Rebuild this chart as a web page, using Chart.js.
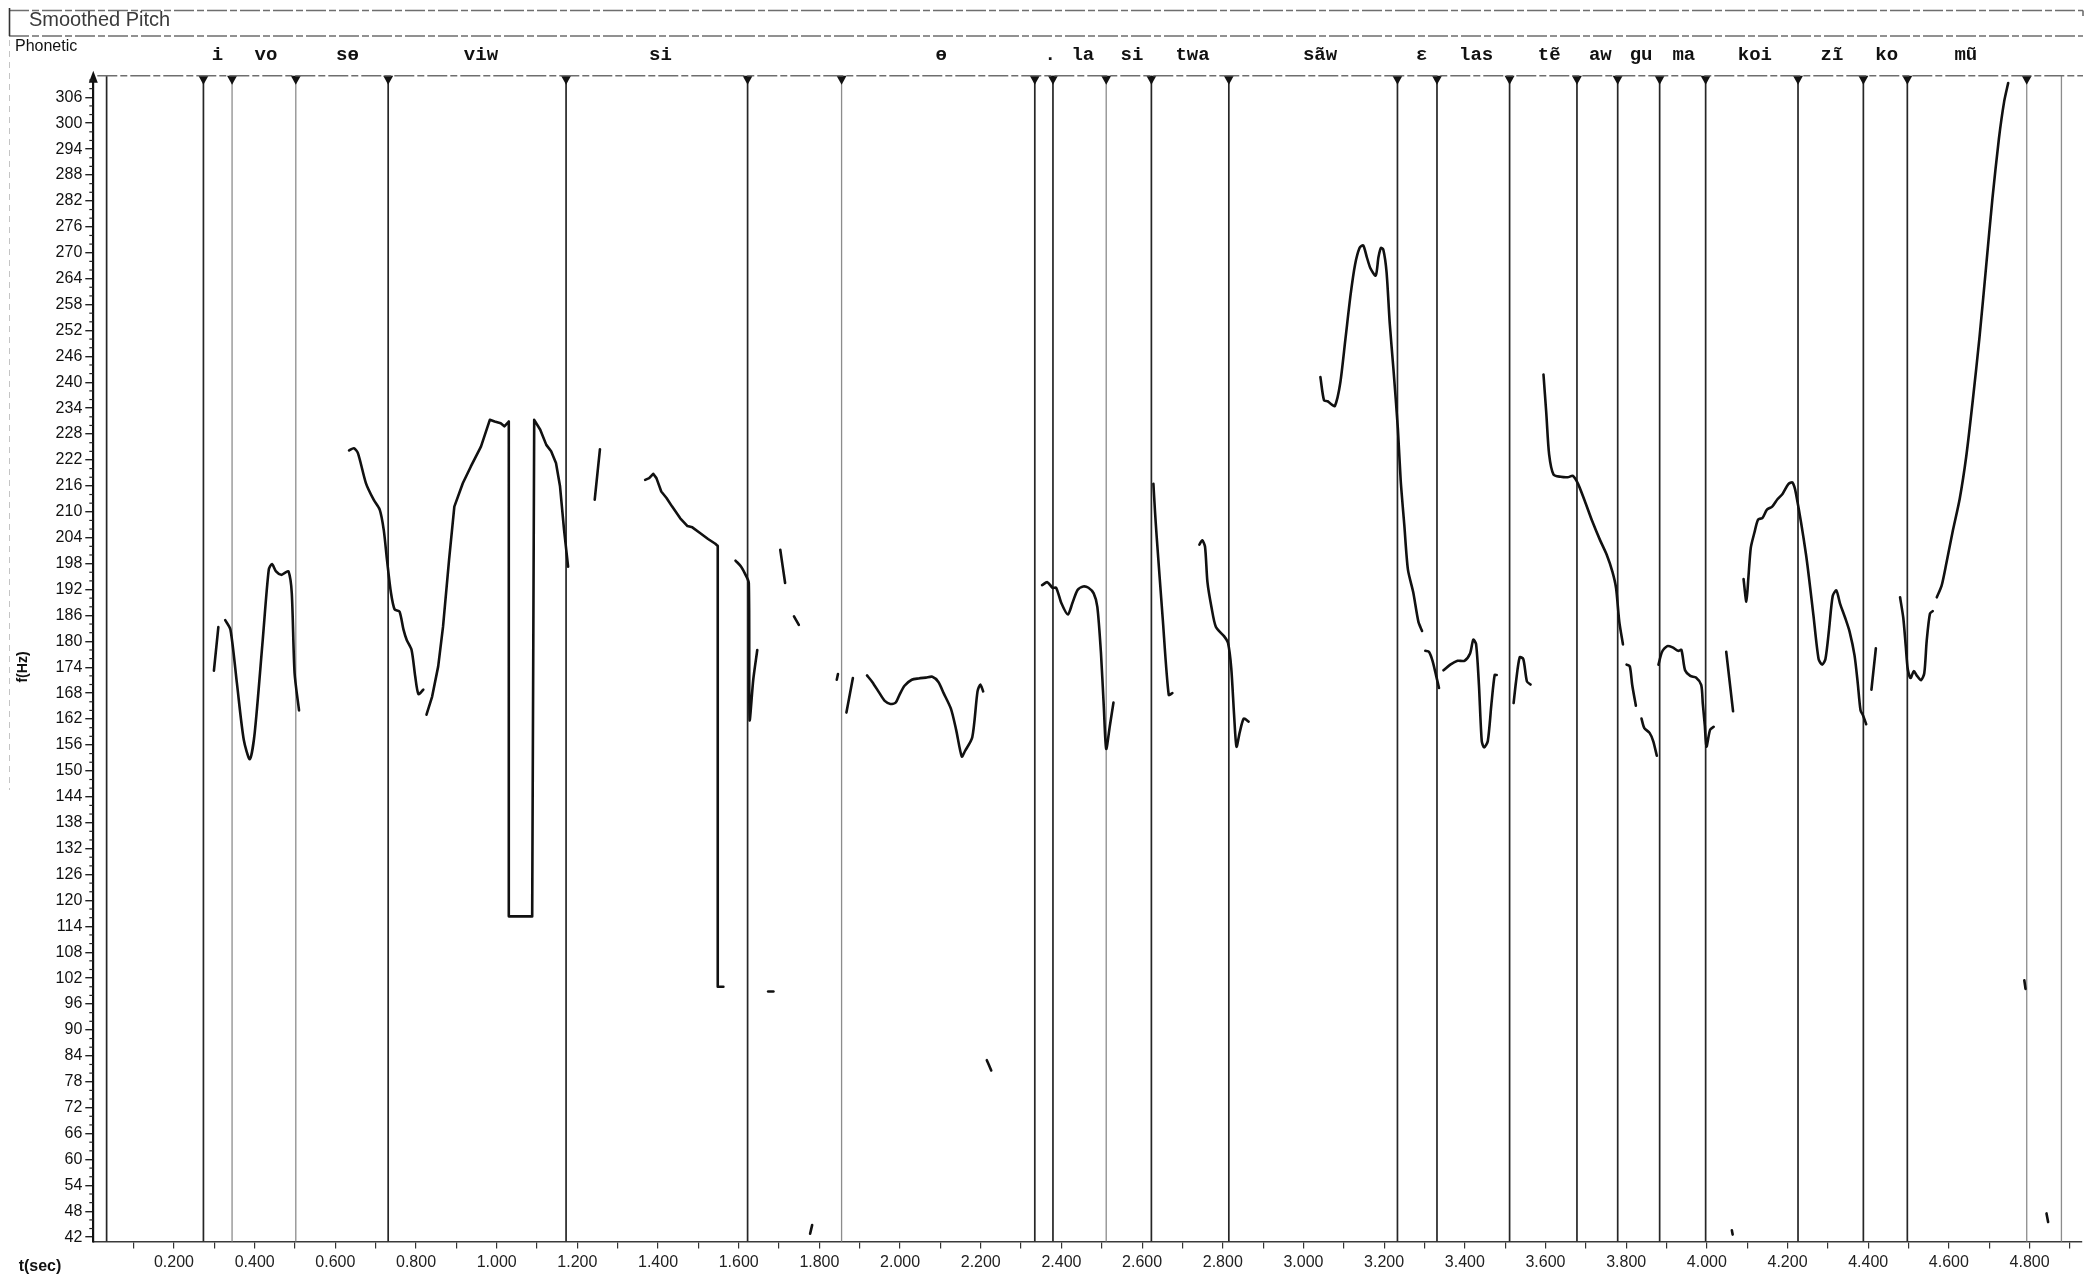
<!DOCTYPE html>
<html>
<head>
<meta charset="utf-8">
<title>Smoothed Pitch</title>
<script src="https://cdn.jsdelivr.net/npm/chart.js@4.4.1/dist/chart.umd.min.js"></script>
<style>
  html, body { margin: 0; padding: 0; background: #fff; }
  canvas { display: block; }
</style>
</head>
<body>
<canvas id="pitchChart" width="2091" height="1280"></canvas>
<script>
// pitch contour pieces, [time (s), f (Hz)]
const pitchI = [[0.299, 173.2], [0.310, 183.3]];
const pitchVo = [[0.327, 184.9], [0.340, 182.7], [0.356, 170.3], [0.373, 157.2], [0.388, 152.7], [0.400, 158.7], [0.420, 180.3], [0.435, 196.6], [0.443, 197.9], [0.453, 196.2], [0.466, 195.4], [0.474, 195.8], [0.484, 196.2], [0.492, 191.2], [0.499, 172.6], [0.510, 164.0]];
const pitchSe = [[0.634, 224.2], [0.646, 224.7], [0.656, 223.6], [0.676, 216.6], [0.695, 212.8], [0.710, 210.5], [0.720, 205.8], [0.728, 198.9], [0.738, 191.2], [0.747, 187.4], [0.759, 186.9], [0.769, 182.7], [0.777, 180.3], [0.789, 178.0], [0.798, 171.9], [0.806, 167.8], [0.818, 168.8]];
const pitchViw = [[0.826, 163.0], [0.840, 167.2], [0.855, 174.2], [0.867, 183.4], [0.882, 198.9], [0.895, 211.2], [0.916, 216.6], [0.936, 220.5], [0.961, 225.1], [0.983, 231.3], [0.995, 230.9], [1.010, 230.5], [1.019, 229.8], [1.030, 230.9], [1.030, 116.3], [1.088, 116.3], [1.093, 231.3], [1.108, 229.0], [1.123, 225.5], [1.135, 224.0], [1.147, 221.3], [1.157, 215.9], [1.167, 205.8], [1.177, 197.3]];
const pitchBlipA = [[1.243, 212.8], [1.256, 224.5]];
const pitchSi = [[1.368, 217.4], [1.378, 217.8], [1.388, 218.8], [1.396, 217.8], [1.408, 214.7], [1.421, 213.2], [1.435, 211.2], [1.455, 208.5], [1.473, 206.7], [1.485, 206.4], [1.504, 205.1], [1.524, 203.7], [1.542, 202.6], [1.548, 202.1], [1.548, 100.0], [1.562, 100.0]];
const pitchSi2 = [[1.592, 198.7], [1.606, 197.3], [1.617, 195.4], [1.625, 193.5], [1.627, 161.8], [1.636, 171.1], [1.646, 178.0]];
const pitchDashA = [[1.673, 98.9], [1.686, 98.9]];
const pitchTickA = [[1.703, 201.2], [1.715, 193.5]];
const pitchTickB = [[1.737, 185.8], [1.749, 183.8]];
const pitchTickC = [[1.777, 42.8], [1.782, 44.8]];
const pitchTickD = [[1.843, 171.1], [1.846, 172.4]];
const pitchE1 = [[1.867, 163.5], [1.883, 171.5]];
const pitchE2 = [[1.918, 172.1], [1.931, 170.6], [1.949, 168.0], [1.962, 166.2], [1.976, 165.5], [1.989, 165.8], [1.998, 167.5], [2.011, 169.7], [2.029, 171.1], [2.046, 171.4], [2.064, 171.6], [2.080, 171.8], [2.095, 170.6], [2.108, 168.0], [2.126, 164.4], [2.139, 159.5], [2.153, 153.3], [2.161, 154.6], [2.179, 157.8], [2.192, 168.4], [2.199, 170.0], [2.206, 168.4]];
const pitchTickE = [[2.215, 83.0], [2.226, 80.6]];
const pitchLa = [[2.352, 193.0], [2.365, 193.7], [2.378, 192.4], [2.387, 192.4], [2.400, 188.8], [2.416, 186.2], [2.427, 188.8], [2.440, 191.9], [2.454, 192.7], [2.467, 192.4], [2.480, 191.1], [2.489, 188.0], [2.498, 177.3], [2.505, 164.9], [2.511, 155.1], [2.520, 160.4], [2.529, 165.8]];
const pitchSi3 = [[2.628, 216.5], [2.632, 210.0], [2.636, 204.4], [2.651, 185.4], [2.666, 167.6], [2.675, 168.0]];
const pitchTwa = [[2.742, 202.4], [2.749, 203.4], [2.756, 201.9], [2.762, 193.7], [2.772, 187.9], [2.783, 183.3], [2.803, 181.2], [2.813, 179.6], [2.821, 173.8], [2.828, 163.0], [2.834, 155.6], [2.842, 158.9], [2.852, 162.1], [2.864, 161.4]];
const pitchSaw = [[3.042, 241.2], [3.051, 235.8], [3.060, 235.6], [3.069, 234.9], [3.078, 234.5], [3.091, 239.7], [3.104, 250.0], [3.117, 260.4], [3.128, 267.3], [3.139, 271.1], [3.148, 271.7], [3.157, 269.0], [3.166, 266.4], [3.179, 264.7], [3.186, 269.0], [3.192, 271.1], [3.198, 270.7], [3.206, 265.5], [3.214, 253.5], [3.223, 243.1], [3.234, 229.3], [3.241, 217.3], [3.250, 206.9], [3.259, 196.6], [3.272, 191.4], [3.285, 184.5], [3.294, 182.4]];
const pitchEps = [[3.302, 177.8], [3.311, 177.6], [3.320, 175.5], [3.329, 172.0], [3.336, 169.2]];
const pitchLas = [[3.347, 173.3], [3.364, 174.6], [3.382, 175.5], [3.399, 175.5], [3.413, 177.2], [3.421, 180.4], [3.428, 179.3], [3.435, 169.9], [3.442, 156.9], [3.448, 155.4], [3.457, 156.9], [3.466, 165.5], [3.474, 172.2], [3.479, 172.2]];
const pitchBlipB = [[3.521, 165.7], [3.527, 170.7], [3.536, 176.3], [3.545, 175.9], [3.554, 170.7], [3.563, 170.0]];
const pitchTe = [[3.595, 241.8], [3.602, 232.8], [3.609, 223.3], [3.620, 218.6], [3.638, 218.1], [3.655, 218.0], [3.668, 218.3], [3.681, 216.4], [3.699, 212.1], [3.716, 207.8], [3.735, 203.5], [3.752, 200.0], [3.766, 196.1], [3.775, 192.3], [3.783, 184.5], [3.792, 179.3]];
const pitchAw1 = [[3.801, 174.6], [3.809, 174.2], [3.815, 169.9], [3.824, 165.1]];
const pitchAw2 = [[3.838, 162.1], [3.845, 159.9], [3.858, 158.8], [3.867, 156.9], [3.876, 153.5]];
const pitchGu = [[3.880, 174.6], [3.889, 177.6], [3.902, 178.9], [3.915, 178.6], [3.929, 177.8], [3.937, 178.0], [3.946, 173.3], [3.959, 172.0], [3.973, 171.6], [3.986, 169.9], [3.990, 165.5], [3.995, 160.4], [3.999, 155.6], [4.008, 159.5], [4.017, 160.2]];
const pitchBlipC = [[4.048, 177.6], [4.065, 163.8]];
const pitchTickF = [[4.062, 43.6], [4.064, 42.6]];
const pitchKoi = [[4.091, 194.4], [4.098, 189.2], [4.103, 194.8], [4.109, 201.7], [4.118, 205.2], [4.127, 208.2], [4.138, 208.6], [4.149, 210.5], [4.162, 211.2], [4.175, 212.9], [4.188, 214.2], [4.202, 216.4], [4.212, 216.8], [4.221, 214.2], [4.246, 200.0], [4.264, 186.2], [4.277, 175.9], [4.286, 174.6], [4.294, 175.9], [4.303, 182.8], [4.312, 190.5], [4.321, 191.8], [4.330, 188.8], [4.343, 185.4], [4.354, 182.2], [4.366, 176.8], [4.374, 170.4], [4.381, 164.0], [4.387, 162.9], [4.395, 160.8]];
const pitchKo1 = [[4.408, 168.8], [4.419, 178.4]];
const pitchKo2 = [[4.479, 190.2], [4.487, 185.4], [4.493, 179.0], [4.498, 173.6], [4.505, 171.5], [4.513, 173.1], [4.521, 172.0], [4.531, 171.0], [4.539, 172.6], [4.545, 180.1], [4.553, 186.4], [4.560, 187.0]];
const pitchMu = [[4.570, 190.2], [4.582, 192.9], [4.594, 198.2], [4.610, 205.7], [4.627, 213.1], [4.643, 222.8], [4.659, 235.6], [4.676, 250.5], [4.692, 266.5], [4.708, 282.6], [4.724, 296.4], [4.737, 305.0], [4.747, 309.3]];
const pitchTickG = [[4.787, 101.5], [4.790, 99.5]];
const pitchTickH = [[4.842, 47.5], [4.846, 45.5]];

const pitchSegments = [pitchI, pitchVo, pitchSe, pitchViw, pitchBlipA, pitchSi, pitchSi2, pitchDashA, pitchTickA, pitchTickB, pitchTickC, pitchTickD, pitchE1, pitchE2, pitchTickE, pitchLa, pitchSi3, pitchTwa, pitchSaw, pitchEps, pitchLas, pitchBlipB, pitchTe, pitchAw1, pitchAw2, pitchGu, pitchBlipC, pitchTickF, pitchKoi, pitchKo1, pitchKo2, pitchMu, pitchTickG, pitchTickH];
const squareSegments = [pitchViw, pitchSi];

// segment boundaries (s)
const boundaryTimes = [0.033, 0.273, 0.344, 0.502, 0.731, 1.172, 1.622, 1.855, 2.334, 2.379, 2.511, 2.623, 2.815, 3.233, 3.331, 3.511, 3.678, 3.779, 3.883, 3.997, 4.226, 4.388, 4.497, 4.793, 4.879];
const faintBoundaryTimes = [0.344, 0.502, 1.855, 2.511, 4.793, 4.879];
const unmarkedBoundaryTimes = [0.033, 4.879];

// phonetic tier
const syllables = ['i', 'vo', 'sɵ', 'viw', 'si', 'ɵ', '.', 'la', 'si', 'twa', 'sãw', 'ɛ', 'las', 'tẽ', 'aw', 'gu', 'ma', 'koi', 'zĩ', 'ko', 'mũ'];
const syllableTimes = [0.308, 0.428, 0.630, 0.961, 1.406, 2.102, 2.372, 2.453, 2.575, 2.725, 3.041, 3.293, 3.428, 3.609, 3.736, 3.837, 3.943, 4.119, 4.310, 4.446, 4.642];

// axes
const yTickValues = [42, 48, 54, 60, 66, 72, 78, 84, 90, 96, 102, 108, 114, 120, 126, 132, 138, 144, 150, 156, 162, 168, 174, 180, 186, 192, 198, 204, 210, 216, 222, 228, 234, 240, 246, 252, 258, 264, 270, 276, 282, 288, 294, 300, 306];
const xLabelValues = [0.2, 0.4, 0.6, 0.8, 1.0, 1.2, 1.4, 1.6, 1.8, 2.0, 2.2, 2.4, 2.6, 2.8, 3.0, 3.2, 3.4, 3.6, 3.8, 4.0, 4.2, 4.4, 4.6, 4.8];
const xMin = 0, xMax = 4.93, yMin = 41, yMax = 311;

const line = (ctx, x1, y1, x2, y2) => {
    ctx.beginPath();
    ctx.moveTo(x1, y1);
    ctx.lineTo(x2, y2);
    ctx.stroke();
};

const pitchDecor = {
    id: 'pitchDecor',
    beforeDatasetsDraw(chart) {
        const { ctx, chartArea: area, scales: { x } } = chart;
        ctx.save();
        boundaryTimes.forEach(t => {
            const px = x.getPixelForValue(t);
            const faint = faintBoundaryTimes.includes(t);
            ctx.strokeStyle = faint ? '#8c8c8c' : '#262626';
            ctx.lineWidth = faint ? 1.3 : 1.7;
            line(ctx, px, area.top, px, area.bottom);
            if (!unmarkedBoundaryTimes.includes(t)) {
                ctx.fillStyle = '#111';
                ctx.beginPath();
                ctx.moveTo(px - 5, area.top);
                ctx.lineTo(px + 5, area.top);
                ctx.lineTo(px, area.top + 9);
                ctx.closePath();
                ctx.fill();
            }
        });
        ctx.restore();
    },
    afterDraw(chart) {
        const { ctx, chartArea: area, scales: { x, y } } = chart;
        ctx.save();

        // header frame
        ctx.strokeStyle = '#6e6e6e';
        ctx.lineWidth = 1.6;
        ctx.setLineDash([20, 3, 7, 3]);
        line(ctx, 9, 10.5, 2083, 10.5);
        line(ctx, 9, 36, 2083, 36);
        line(ctx, area.left + 4, area.top, 2083, area.top);
        ctx.setLineDash([]);
        line(ctx, 2083, 10.5, 2083, 16);
        ctx.strokeStyle = '#333';
        line(ctx, 9.5, 8, 9.5, 36);
        ctx.strokeStyle = '#c4c4c4';
        ctx.lineWidth = 1;
        ctx.setLineDash([6, 5]);
        line(ctx, 9.5, 40, 9.5, 790);
        ctx.setLineDash([]);

        ctx.fillStyle = '#3a3a3a';
        ctx.font = '20px "Liberation Sans", Arial, sans-serif';
        ctx.textBaseline = 'middle';
        ctx.textAlign = 'left';
        ctx.fillText('Smoothed Pitch', 29, 20);
        ctx.fillStyle = '#111';
        ctx.font = '16px "Liberation Sans", Arial, sans-serif';
        ctx.fillText('Phonetic', 15, 47);

        // phonetic labels
        ctx.font = 'bold 19px "Liberation Mono", "Courier New", monospace';
        ctx.textAlign = 'center';
        syllables.forEach((s, i) => {
            ctx.fillText(s, x.getPixelForValue(syllableTimes[i]), 55);
        });

        // y axis arrow and minor ticks
        ctx.fillStyle = '#111';
        ctx.beginPath();
        ctx.moveTo(area.left, area.top - 5);
        ctx.lineTo(area.left - 4.5, area.top + 7);
        ctx.lineTo(area.left + 4.5, area.top + 7);
        ctx.closePath();
        ctx.fill();
        ctx.strokeStyle = '#222';
        ctx.lineWidth = 1.2;
        for (let v = 44; v <= 310; v += 2) {
            if ((v - 42) % 6 === 0) continue;
            const py = y.getPixelForValue(v);
            line(ctx, area.left - 4, py, area.left, py);
        }

        // axis titles
        ctx.font = 'bold 14px "Liberation Sans", Arial, sans-serif';
        ctx.save();
        ctx.translate(23, 667);
        ctx.rotate(-Math.PI / 2);
        ctx.fillText('f(Hz)', 0, 0);
        ctx.restore();
        ctx.font = 'bold 16px "Liberation Sans", Arial, sans-serif';
        ctx.fillText('t(sec)', 40, 1267);
        ctx.restore();
    }
};

const drawPitch = () => {
    const ctx = document.getElementById('pitchChart').getContext('2d');
    const pitchChart = new Chart(ctx, {
        type: 'line',
        data: {
            datasets: pitchSegments.map(seg => ({
                data: seg.map(p => ({ x: p[0], y: p[1] })),
                borderColor: '#111',
                borderWidth: 2.6,
                borderJoinStyle: 'round',
                borderCapStyle: 'round',
                pointRadius: 0,
                fill: false,
                tension: squareSegments.includes(seg) ? 0 : 0.25,
            }))
        },
        options: {
            responsive: false,
            devicePixelRatio: 1,
            animation: false,
            layout: { padding: { top: 75.7, right: 9, left: 0, bottom: 0 } },
            plugins: {
                legend: { display: false },
                tooltip: { enabled: false },
            },
            scales: {
                x: {
                    type: 'linear',
                    min: xMin,
                    max: xMax,
                    afterFit: scale => { scale.height = 38.5; },
                    afterBuildTicks: scale => {
                        const ticks = [];
                        for (let i = 1; i <= 49; i++) ticks.push({ value: i / 10 });
                        scale.ticks = ticks;
                    },
                    grid: { drawOnChartArea: false, color: '#333', tickLength: 7, lineWidth: 1.2 },
                    border: { color: '#3a3a3a', width: 1.6, dash: [14, 3] },
                    ticks: {
                        autoSkip: false,
                        maxRotation: 0,
                        padding: 4,
                        color: '#222',
                        font: { family: '"Liberation Sans", Arial, sans-serif', size: 16 },
                        callback: v => xLabelValues.some(l => Math.abs(l - v) < 1e-6) ? v.toFixed(3) : '',
                    },
                },
                y: {
                    type: 'linear',
                    min: yMin,
                    max: yMax,
                    afterFit: scale => { scale.width = 93.3; },
                    afterBuildTicks: scale => {
                        scale.ticks = yTickValues.map(v => ({ value: v }));
                    },
                    grid: { drawOnChartArea: false, color: '#222', tickLength: 8, lineWidth: 1.4 },
                    border: { color: '#111', width: 2.2 },
                    ticks: {
                        autoSkip: false,
                        padding: 3,
                        color: '#111',
                        font: { family: '"Liberation Sans", Arial, sans-serif', size: 16 },
                    },
                },
            },
        },
        plugins: [pitchDecor],
    });
};

drawPitch();
</script>
</body>
</html>
